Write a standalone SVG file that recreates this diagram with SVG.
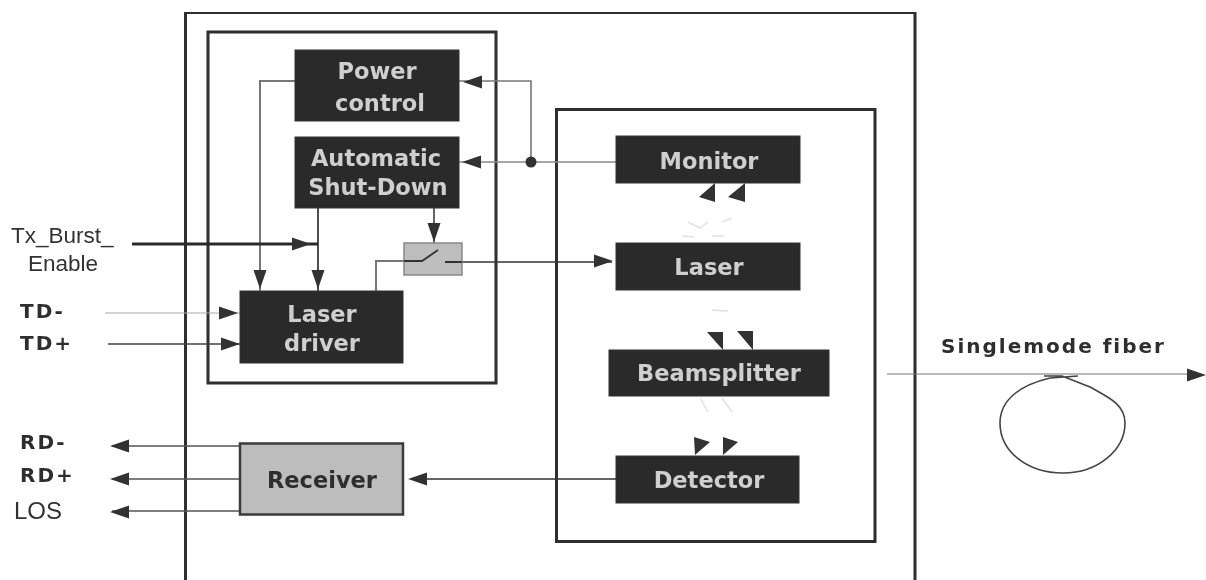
<svg xmlns="http://www.w3.org/2000/svg" width="1206" height="580" viewBox="0 0 1206 580">
<style>
.frame{fill:none;stroke:#2d2d2d;stroke-width:3}
.dark{fill:#2b2b2b;stroke:#333;stroke-width:1}
.gray{fill:#bdbdbd;stroke:#3a3a3a;stroke-width:2.5}
.wt{fill:#cfcfcf;font-family:"DejaVu Sans",sans-serif;font-weight:700;font-size:22.500px;text-anchor:middle}
.bt{fill:#2e2e2e;font-family:"DejaVu Sans",sans-serif;font-weight:700;font-size:20px}
.lt{fill:#333;font-family:"Liberation Sans",Arial,sans-serif;font-size:22.500px}
.c{fill:none;stroke:#555;stroke-width:1.600}
.ar{fill:#333}
.faint{fill:none;stroke:#e2e2e2;stroke-width:1.500}
</style>
<defs>
<filter id="soft" x="0" y="0" width="100%" height="100%"><feGaussianBlur stdDeviation="0.5"/></filter>
<path id="ah" class="ar" d="M0 0L-19 -6.500L-19 6.500Z"/>
</defs>
<g filter="url(#soft)">
<g id="frames">
<path class="frame" d="M185.500 580V12.500H915V580"/>
<rect class="frame" x="208" y="32" width="288" height="351"/>
<rect class="frame" x="556.500" y="109.500" width="318.500" height="432"/>
</g>
<g id="connectors">
<path class="c" style="stroke:#777;stroke-width:2" d="M295 81H260V291"/>
<path class="c" style="stroke:#777" d="M459 81H531V162"/>
<path class="c" style="stroke:#888" d="M459 162H616"/>
<circle class="ar" cx="531" cy="162" r="5.500"/>
<path class="c" style="stroke:#222" d="M318 208V291"/>
<path class="c" style="stroke:#666;stroke-width:2" d="M434 208V243"/>
<path d="M132 244H318" fill="none" stroke="#2a2a2a" stroke-width="3"/>
<path class="c" style="stroke:#777;stroke-width:2" d="M376 291V261H404"/>
<path class="c" style="stroke:#333" d="M445 262H612"/>
<path class="c" style="stroke:#aaa;stroke-width:1.200" d="M105 313H240"/>
<path class="c" style="stroke:#444" d="M108 344H240"/>
<path class="c" d="M240 446H112M240 479H112M240 511H112"/>
<path class="c" style="stroke:#333" d="M616 479H412"/>
<path class="c" style="stroke:#777;stroke-width:1.200" d="M887 374H1190"/>
<path d="M1078 376L1050 378C1020 385 1000 400 1000 423C1000 452 1028 473 1063 473C1098 473 1125 450 1125 423C1125 405 1110 398 1090 387L1062 376L1044 376" fill="none" stroke="#444" stroke-width="1.600"/>
<use href="#ah" transform="translate(463,82) rotate(180)"/>
<use href="#ah" transform="translate(462,162) rotate(180)"/>
<use href="#ah" transform="translate(260,289) rotate(90)"/>
<use href="#ah" transform="translate(318,289) rotate(90)"/>
<use href="#ah" transform="translate(434,242) rotate(90)"/>
<use href="#ah" transform="translate(311,244)"/>
<use href="#ah" transform="translate(238,313)"/>
<use href="#ah" transform="translate(240,344)"/>
<use href="#ah" transform="translate(613,261)"/>
<use href="#ah" transform="translate(110,446) rotate(180)"/>
<use href="#ah" transform="translate(110,479) rotate(180)"/>
<use href="#ah" transform="translate(110,512) rotate(180)"/>
<use href="#ah" transform="translate(408,479) rotate(180)"/>
<use href="#ah" transform="translate(1206,375)"/>
<path class="ar" d="M715 183L715 202L699 197ZM745 183L745 202L728 197Z"/>
<path class="ar" d="M707 332L723 332L723 350ZM737 331L753 331L753 350Z"/>
<path class="ar" d="M694 437L710 442L695 455ZM723 437L738 442L723 455Z"/>
<path class="faint" d="M688 222L700 228L708 222M722 222L732 218M682 236L694 237M712 236L724 236M712 310L728 311M700 398L708 412M722 398L732 412"/>
</g>
<g id="power-control"><rect class="dark" x="295" y="50" width="164" height="71"/><text class="wt" x="377" y="79">Power</text><text class="wt" x="380" y="111">control</text></g>
<g id="auto-shutdown"><rect class="dark" x="295" y="137" width="164" height="71"/><text class="wt" x="376" y="166">Automatic</text><text class="wt" x="378" y="195">Shut-Down</text></g>
<g id="laser-driver"><rect class="dark" x="240" y="291" width="163" height="72"/><text class="wt" x="322" y="322">Laser</text><text class="wt" x="322" y="351">driver</text></g>
<g id="switch"><rect x="404" y="243" width="58" height="32" fill="#bdbdbd" stroke="#888" stroke-width="1.500"/><path d="M404 261H422L438 250M445 262H462" fill="none" stroke="#333" stroke-width="1.800"/></g>
<g id="monitor"><rect class="dark" x="616" y="136" width="184" height="47"/><text class="wt" x="709" y="169">Monitor</text></g>
<g id="laser"><rect class="dark" x="616" y="243" width="184" height="47"/><text class="wt" x="709" y="275">Laser</text></g>
<g id="beamsplitter"><rect class="dark" x="609" y="350" width="220" height="46"/><text class="wt" x="719" y="381">Beamsplitter</text></g>
<g id="detector"><rect class="dark" x="616" y="456" width="183" height="47"/><text class="wt" x="709" y="488">Detector</text></g>
<g id="receiver"><rect class="gray" x="240" y="443.500" width="163" height="71"/><text class="bt" x="322" y="488" text-anchor="middle" style="font-size:22.500px">Receiver</text></g>
<g id="labels">
<text class="lt" x="11" y="243">Tx_Burst_</text>
<text class="lt" x="28" y="271">Enable</text>
<text class="bt" x="20" y="318" style="letter-spacing:2px">TD-</text>
<text class="bt" x="20" y="350" style="letter-spacing:2px">TD+</text>
<text class="bt" x="20" y="449" style="letter-spacing:2px">RD-</text>
<text class="bt" x="20" y="482" style="letter-spacing:2px">RD+</text>
<text class="lt" x="14" y="519" style="font-size:24px">LOS</text>
<text class="bt" x="941" y="353" style="font-size:20px;letter-spacing:2px">Singlemode fiber</text>
</g>
</g>
</svg>
